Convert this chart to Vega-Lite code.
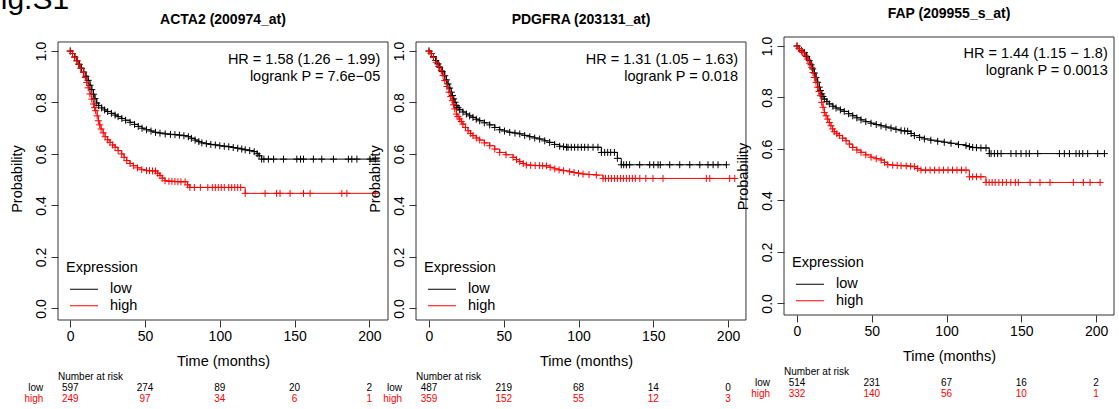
{
"$schema": "https://vega.github.io/schema/vega-lite/v6.json",
"padding": {"left": -18, "top": -15, "right": 5, "bottom": 5},
"background": "white",
"title": {"text": "Fig.S1", "anchor": "start", "frame": "bounds", "fontSize": 30, "fontWeight": "normal", "dx": -26.6, "offset": -32, "baseline": "alphabetic", "color": "black"},
"datasets": {
"ann": [
{"p":1,"hr":"HR = 1.58 (1.26 − 1.99)","lr":"logrank P = 7.6e−05"},
{"p":2,"hr":"HR = 1.31 (1.05 − 1.63)","lr":"logrank P = 0.018"},
{"p":3,"hr":"HR = 1.44 (1.15 − 1.8)","lr":"logrank P = 0.0013"}
],
"risk": [
{"p":1,"g":"low","t":0,"n":"597"},{"p":1,"g":"low","t":50,"n":"274"},{"p":1,"g":"low","t":100,"n":"89"},{"p":1,"g":"low","t":150,"n":"20"},{"p":1,"g":"low","t":200,"n":"2"},
{"p":1,"g":"high","t":0,"n":"249"},{"p":1,"g":"high","t":50,"n":"97"},{"p":1,"g":"high","t":100,"n":"34"},{"p":1,"g":"high","t":150,"n":"6"},{"p":1,"g":"high","t":200,"n":"1"},
{"p":2,"g":"low","t":0,"n":"487"},{"p":2,"g":"low","t":50,"n":"219"},{"p":2,"g":"low","t":100,"n":"68"},{"p":2,"g":"low","t":150,"n":"14"},{"p":2,"g":"low","t":200,"n":"0"},
{"p":2,"g":"high","t":0,"n":"359"},{"p":2,"g":"high","t":50,"n":"152"},{"p":2,"g":"high","t":100,"n":"55"},{"p":2,"g":"high","t":150,"n":"12"},{"p":2,"g":"high","t":200,"n":"3"},
{"p":3,"g":"low","t":0,"n":"514"},{"p":3,"g":"low","t":50,"n":"231"},{"p":3,"g":"low","t":100,"n":"67"},{"p":3,"g":"low","t":150,"n":"16"},{"p":3,"g":"low","t":200,"n":"2"},
{"p":3,"g":"high","t":0,"n":"332"},{"p":3,"g":"high","t":50,"n":"140"},{"p":3,"g":"high","t":100,"n":"56"},{"p":3,"g":"high","t":150,"n":"10"},{"p":3,"g":"high","t":200,"n":"1"}
],
"k1": [
{"g":"low","t":0,"s":1},{"g":"low","t":1.5,"s":0.99},{"g":"low","t":3,"s":0.977},{"g":"low","t":4.5,"s":0.962},{"g":"low","t":6,"s":0.948},{"g":"low","t":7.5,"s":0.933},{"g":"low","t":9,"s":0.918},{"g":"low","t":10.5,"s":0.902},{"g":"low","t":12,"s":0.886},{"g":"low","t":13.2,"s":0.867},{"g":"low","t":14.4,"s":0.85},{"g":"low","t":15.5,"s":0.832},{"g":"low","t":16.5,"s":0.815},{"g":"low","t":17.7,"s":0.798},{"g":"low","t":19,"s":0.788},{"g":"low","t":21,"s":0.779},{"g":"low","t":23,"s":0.771},{"g":"low","t":25,"s":0.765},{"g":"low","t":27.5,"s":0.758},{"g":"low","t":30,"s":0.751},{"g":"low","t":32,"s":0.745},{"g":"low","t":34.5,"s":0.738},{"g":"low","t":37,"s":0.731},{"g":"low","t":40,"s":0.723},{"g":"low","t":43,"s":0.715},{"g":"low","t":45.5,"s":0.707},{"g":"low","t":48,"s":0.7},{"g":"low","t":51,"s":0.694},{"g":"low","t":54,"s":0.689},{"g":"low","t":57,"s":0.684},{"g":"low","t":60,"s":0.681},{"g":"low","t":63.5,"s":0.678},{"g":"low","t":67,"s":0.676},{"g":"low","t":70,"s":0.675},{"g":"low","t":73,"s":0.673},{"g":"low","t":76,"s":0.671},{"g":"low","t":79,"s":0.667},{"g":"low","t":81,"s":0.661},{"g":"low","t":83.5,"s":0.654},{"g":"low","t":86,"s":0.648},{"g":"low","t":88,"s":0.643},{"g":"low","t":91,"s":0.64},{"g":"low","t":94,"s":0.637},{"g":"low","t":97,"s":0.635},{"g":"low","t":100,"s":0.632},{"g":"low","t":103,"s":0.63},{"g":"low","t":106,"s":0.628},{"g":"low","t":109,"s":0.625},{"g":"low","t":112,"s":0.622},{"g":"low","t":114.7,"s":0.619},{"g":"low","t":117,"s":0.616},{"g":"low","t":120,"s":0.613},{"g":"low","t":123,"s":0.609},{"g":"low","t":125,"s":0.601},{"g":"low","t":126.3,"s":0.593},{"g":"low","t":128,"s":0.58},{"g":"low","t":129.5,"s":0.58},{"g":"low","t":132.5,"s":0.58},{"g":"low","t":136,"s":0.58},{"g":"low","t":142.6,"s":0.58},{"g":"low","t":151.5,"s":0.58},{"g":"low","t":154,"s":0.58},{"g":"low","t":156,"s":0.58},{"g":"low","t":162.6,"s":0.58},{"g":"low","t":168.2,"s":0.58},{"g":"low","t":176,"s":0.58},{"g":"low","t":186,"s":0.58},{"g":"low","t":188.3,"s":0.58},{"g":"low","t":191.7,"s":0.58},{"g":"low","t":200.5,"s":0.58},{"g":"low","t":204,"s":0.58},
{"g":"high","t":0,"s":1},{"g":"high","t":1.5,"s":0.99},{"g":"high","t":3,"s":0.975},{"g":"high","t":4.5,"s":0.962},{"g":"high","t":5.5,"s":0.949},{"g":"high","t":7,"s":0.933},{"g":"high","t":8.8,"s":0.917},{"g":"high","t":10,"s":0.897},{"g":"high","t":11,"s":0.878},{"g":"high","t":12,"s":0.857},{"g":"high","t":13.2,"s":0.833},{"g":"high","t":14.4,"s":0.813},{"g":"high","t":15.5,"s":0.794},{"g":"high","t":16.3,"s":0.78},{"g":"high","t":17,"s":0.768},{"g":"high","t":18,"s":0.748},{"g":"high","t":18.8,"s":0.729},{"g":"high","t":19.7,"s":0.713},{"g":"high","t":20.6,"s":0.697},{"g":"high","t":22,"s":0.682},{"g":"high","t":23.3,"s":0.667},{"g":"high","t":25,"s":0.655},{"g":"high","t":26.6,"s":0.645},{"g":"high","t":28.3,"s":0.635},{"g":"high","t":30,"s":0.626},{"g":"high","t":32,"s":0.613},{"g":"high","t":34.4,"s":0.6},{"g":"high","t":36,"s":0.587},{"g":"high","t":37.8,"s":0.574},{"g":"high","t":40,"s":0.563},{"g":"high","t":42.2,"s":0.554},{"g":"high","t":45,"s":0.546},{"g":"high","t":47.8,"s":0.539},{"g":"high","t":51,"s":0.535},{"g":"high","t":53,"s":0.535},{"g":"high","t":55,"s":0.534},{"g":"high","t":57,"s":0.534},{"g":"high","t":58.5,"s":0.525},{"g":"high","t":60,"s":0.516},{"g":"high","t":61.5,"s":0.506},{"g":"high","t":63.4,"s":0.496},{"g":"high","t":66,"s":0.494},{"g":"high","t":68,"s":0.494},{"g":"high","t":70,"s":0.493},{"g":"high","t":72,"s":0.492},{"g":"high","t":74,"s":0.492},{"g":"high","t":76.8,"s":0.492},{"g":"high","t":78.5,"s":0.48},{"g":"high","t":80,"s":0.47},{"g":"high","t":83,"s":0.47},{"g":"high","t":87,"s":0.47},{"g":"high","t":92,"s":0.47},{"g":"high","t":95,"s":0.47},{"g":"high","t":97,"s":0.47},{"g":"high","t":99,"s":0.47},{"g":"high","t":101,"s":0.47},{"g":"high","t":103,"s":0.47},{"g":"high","t":106,"s":0.47},{"g":"high","t":108,"s":0.47},{"g":"high","t":110,"s":0.47},{"g":"high","t":112,"s":0.47},{"g":"high","t":114,"s":0.47},{"g":"high","t":117,"s":0.447},{"g":"high","t":130.3,"s":0.447},{"g":"high","t":138,"s":0.447},{"g":"high","t":140.3,"s":0.447},{"g":"high","t":147,"s":0.447},{"g":"high","t":156,"s":0.447},{"g":"high","t":160.4,"s":0.447},{"g":"high","t":181.6,"s":0.447},{"g":"high","t":185,"s":0.447},{"g":"high","t":203.9,"s":0.447}
],
"k2": [
{"g":"low","t":0,"s":1},{"g":"low","t":1.5,"s":0.99},{"g":"low","t":3,"s":0.978},{"g":"low","t":4.5,"s":0.963},{"g":"low","t":6,"s":0.95},{"g":"low","t":7.2,"s":0.937},{"g":"low","t":8.8,"s":0.92},{"g":"low","t":10.5,"s":0.904},{"g":"low","t":11.6,"s":0.888},{"g":"low","t":12.7,"s":0.872},{"g":"low","t":13.8,"s":0.856},{"g":"low","t":14.9,"s":0.84},{"g":"low","t":15.7,"s":0.827},{"g":"low","t":16.5,"s":0.814},{"g":"low","t":17.4,"s":0.801},{"g":"low","t":18.3,"s":0.788},{"g":"low","t":19.4,"s":0.78},{"g":"low","t":20.5,"s":0.772},{"g":"low","t":22.7,"s":0.763},{"g":"low","t":25,"s":0.755},{"g":"low","t":27.2,"s":0.748},{"g":"low","t":29.4,"s":0.742},{"g":"low","t":31.6,"s":0.735},{"g":"low","t":33.9,"s":0.729},{"g":"low","t":37,"s":0.721},{"g":"low","t":40.6,"s":0.713},{"g":"low","t":44,"s":0.703},{"g":"low","t":47.3,"s":0.694},{"g":"low","t":50.5,"s":0.689},{"g":"low","t":54,"s":0.684},{"g":"low","t":57.5,"s":0.681},{"g":"low","t":60.7,"s":0.678},{"g":"low","t":64,"s":0.672},{"g":"low","t":67.4,"s":0.667},{"g":"low","t":70.7,"s":0.662},{"g":"low","t":74,"s":0.658},{"g":"low","t":77.4,"s":0.651},{"g":"low","t":80.7,"s":0.645},{"g":"low","t":84,"s":0.637},{"g":"low","t":87.4,"s":0.63},{"g":"low","t":90,"s":0.628},{"g":"low","t":92,"s":0.626},{"g":"low","t":93,"s":0.626},{"g":"low","t":95.2,"s":0.626},{"g":"low","t":97.4,"s":0.626},{"g":"low","t":99.6,"s":0.626},{"g":"low","t":101.9,"s":0.626},{"g":"low","t":104.1,"s":0.626},{"g":"low","t":106.4,"s":0.626},{"g":"low","t":109.7,"s":0.626},{"g":"low","t":113,"s":0.626},{"g":"low","t":115.3,"s":0.606},{"g":"low","t":117.5,"s":0.606},{"g":"low","t":119.5,"s":0.606},{"g":"low","t":121.5,"s":0.606},{"g":"low","t":124,"s":0.606},{"g":"low","t":126,"s":0.583},{"g":"low","t":128.6,"s":0.558},{"g":"low","t":130.2,"s":0.558},{"g":"low","t":132,"s":0.558},{"g":"low","t":134.2,"s":0.558},{"g":"low","t":140.9,"s":0.558},{"g":"low","t":147.6,"s":0.558},{"g":"low","t":150.3,"s":0.558},{"g":"low","t":153.2,"s":0.558},{"g":"low","t":154.7,"s":0.558},{"g":"low","t":161,"s":0.558},{"g":"low","t":167.7,"s":0.558},{"g":"low","t":174.4,"s":0.558},{"g":"low","t":181.1,"s":0.558},{"g":"low","t":186.6,"s":0.558},{"g":"low","t":190,"s":0.558},{"g":"low","t":193.3,"s":0.558},{"g":"low","t":198.9,"s":0.558},
{"g":"high","t":0,"s":1},{"g":"high","t":1.5,"s":0.99},{"g":"high","t":3,"s":0.975},{"g":"high","t":4.9,"s":0.956},{"g":"high","t":6.5,"s":0.94},{"g":"high","t":8.2,"s":0.924},{"g":"high","t":9.4,"s":0.905},{"g":"high","t":10.5,"s":0.885},{"g":"high","t":12,"s":0.862},{"g":"high","t":13.4,"s":0.84},{"g":"high","t":14.5,"s":0.823},{"g":"high","t":15.6,"s":0.807},{"g":"high","t":16.4,"s":0.791},{"g":"high","t":17.2,"s":0.775},{"g":"high","t":18.3,"s":0.755},{"g":"high","t":19.4,"s":0.745},{"g":"high","t":20.5,"s":0.736},{"g":"high","t":21.6,"s":0.726},{"g":"high","t":22.7,"s":0.716},{"g":"high","t":24.4,"s":0.703},{"g":"high","t":26.1,"s":0.69},{"g":"high","t":27.8,"s":0.68},{"g":"high","t":29.4,"s":0.671},{"g":"high","t":31.6,"s":0.662},{"g":"high","t":33.9,"s":0.654},{"g":"high","t":37,"s":0.643},{"g":"high","t":40.6,"s":0.632},{"g":"high","t":44,"s":0.619},{"g":"high","t":47.3,"s":0.606},{"g":"high","t":51.5,"s":0.597},{"g":"high","t":56.2,"s":0.587},{"g":"high","t":58.5,"s":0.578},{"g":"high","t":60.7,"s":0.57},{"g":"high","t":63,"s":0.563},{"g":"high","t":65.1,"s":0.557},{"g":"high","t":68,"s":0.556},{"g":"high","t":71,"s":0.555},{"g":"high","t":74,"s":0.555},{"g":"high","t":76,"s":0.554},{"g":"high","t":78.5,"s":0.554},{"g":"high","t":81,"s":0.548},{"g":"high","t":84.1,"s":0.542},{"g":"high","t":87,"s":0.538},{"g":"high","t":90,"s":0.535},{"g":"high","t":94.1,"s":0.531},{"g":"high","t":97,"s":0.528},{"g":"high","t":100,"s":0.525},{"g":"high","t":103,"s":0.522},{"g":"high","t":107,"s":0.52},{"g":"high","t":111.9,"s":0.518},{"g":"high","t":116.4,"s":0.505},{"g":"high","t":118,"s":0.505},{"g":"high","t":120,"s":0.505},{"g":"high","t":122,"s":0.505},{"g":"high","t":124,"s":0.505},{"g":"high","t":126,"s":0.505},{"g":"high","t":128,"s":0.505},{"g":"high","t":130,"s":0.505},{"g":"high","t":132,"s":0.505},{"g":"high","t":134,"s":0.505},{"g":"high","t":136,"s":0.505},{"g":"high","t":138,"s":0.505},{"g":"high","t":141,"s":0.505},{"g":"high","t":145,"s":0.505},{"g":"high","t":149.8,"s":0.505},{"g":"high","t":156.5,"s":0.505},{"g":"high","t":185.5,"s":0.505},{"g":"high","t":187.8,"s":0.505},{"g":"high","t":201.1,"s":0.505},{"g":"high","t":204.5,"s":0.505}
],
"k3": [
{"g":"low","t":0,"s":1},{"g":"low","t":1.5,"s":0.99},{"g":"low","t":3,"s":0.983},{"g":"low","t":4.9,"s":0.975},{"g":"low","t":6.5,"s":0.959},{"g":"low","t":8.2,"s":0.943},{"g":"low","t":9.4,"s":0.927},{"g":"low","t":10.5,"s":0.911},{"g":"low","t":11.6,"s":0.895},{"g":"low","t":12.7,"s":0.878},{"g":"low","t":13.8,"s":0.859},{"g":"low","t":14.9,"s":0.84},{"g":"low","t":15.7,"s":0.827},{"g":"low","t":16.5,"s":0.814},{"g":"low","t":17.4,"s":0.804},{"g":"low","t":18.3,"s":0.794},{"g":"low","t":20,"s":0.784},{"g":"low","t":21.6,"s":0.775},{"g":"low","t":24,"s":0.766},{"g":"low","t":26.1,"s":0.759},{"g":"low","t":29,"s":0.752},{"g":"low","t":31.6,"s":0.746},{"g":"low","t":34.5,"s":0.737},{"g":"low","t":37.3,"s":0.729},{"g":"low","t":40,"s":0.721},{"g":"low","t":42.8,"s":0.713},{"g":"low","t":46,"s":0.706},{"g":"low","t":49.5,"s":0.7},{"g":"low","t":53,"s":0.695},{"g":"low","t":56.2,"s":0.69},{"g":"low","t":59.5,"s":0.685},{"g":"low","t":62.9,"s":0.681},{"g":"low","t":66.2,"s":0.676},{"g":"low","t":69.6,"s":0.671},{"g":"low","t":72,"s":0.67},{"g":"low","t":74,"s":0.669},{"g":"low","t":76.3,"s":0.66},{"g":"low","t":78.5,"s":0.652},{"g":"low","t":82,"s":0.645},{"g":"low","t":85.2,"s":0.639},{"g":"low","t":89.5,"s":0.634},{"g":"low","t":94.1,"s":0.63},{"g":"low","t":98.5,"s":0.626},{"g":"low","t":103,"s":0.622},{"g":"low","t":108,"s":0.617},{"g":"low","t":113,"s":0.613},{"g":"low","t":115.3,"s":0.609},{"g":"low","t":117.5,"s":0.606},{"g":"low","t":120,"s":0.605},{"g":"low","t":123,"s":0.604},{"g":"low","t":126.4,"s":0.604},{"g":"low","t":128.6,"s":0.582},{"g":"low","t":129.8,"s":0.582},{"g":"low","t":132,"s":0.582},{"g":"low","t":134.2,"s":0.582},{"g":"low","t":136.5,"s":0.582},{"g":"low","t":143.1,"s":0.582},{"g":"low","t":146.5,"s":0.582},{"g":"low","t":149.8,"s":0.582},{"g":"low","t":153.2,"s":0.582},{"g":"low","t":155.4,"s":0.582},{"g":"low","t":161,"s":0.582},{"g":"low","t":175.5,"s":0.582},{"g":"low","t":178.8,"s":0.582},{"g":"low","t":182.2,"s":0.582},{"g":"low","t":186.6,"s":0.582},{"g":"low","t":188.8,"s":0.582},{"g":"low","t":191.1,"s":0.582},{"g":"low","t":194.4,"s":0.582},{"g":"low","t":201.1,"s":0.582},{"g":"low","t":205.6,"s":0.582},
{"g":"high","t":0,"s":1},{"g":"high","t":1.5,"s":0.99},{"g":"high","t":3,"s":0.98},{"g":"high","t":3.8,"s":0.975},{"g":"high","t":5.5,"s":0.962},{"g":"high","t":7.2,"s":0.949},{"g":"high","t":8.5,"s":0.933},{"g":"high","t":9.8,"s":0.917},{"g":"high","t":10.7,"s":0.897},{"g":"high","t":11.6,"s":0.878},{"g":"high","t":12.7,"s":0.859},{"g":"high","t":13.8,"s":0.84},{"g":"high","t":14.7,"s":0.823},{"g":"high","t":15.6,"s":0.807},{"g":"high","t":16.5,"s":0.781},{"g":"high","t":17.4,"s":0.762},{"g":"high","t":18.3,"s":0.742},{"g":"high","t":19.4,"s":0.729},{"g":"high","t":20.5,"s":0.716},{"g":"high","t":21.6,"s":0.703},{"g":"high","t":22.7,"s":0.69},{"g":"high","t":23.8,"s":0.678},{"g":"high","t":24.9,"s":0.667},{"g":"high","t":26.6,"s":0.659},{"g":"high","t":28.3,"s":0.652},{"g":"high","t":30.5,"s":0.642},{"g":"high","t":32.8,"s":0.632},{"g":"high","t":35,"s":0.619},{"g":"high","t":37.3,"s":0.606},{"g":"high","t":40,"s":0.596},{"g":"high","t":42.8,"s":0.587},{"g":"high","t":46,"s":0.577},{"g":"high","t":49.5,"s":0.568},{"g":"high","t":53,"s":0.562},{"g":"high","t":56.2,"s":0.557},{"g":"high","t":58.5,"s":0.548},{"g":"high","t":60.7,"s":0.539},{"g":"high","t":64,"s":0.537},{"g":"high","t":67,"s":0.536},{"g":"high","t":69.6,"s":0.535},{"g":"high","t":73,"s":0.534},{"g":"high","t":76,"s":0.533},{"g":"high","t":78.5,"s":0.531},{"g":"high","t":80.7,"s":0.524},{"g":"high","t":82.9,"s":0.518},{"g":"high","t":86,"s":0.518},{"g":"high","t":89,"s":0.518},{"g":"high","t":92,"s":0.518},{"g":"high","t":95,"s":0.518},{"g":"high","t":98,"s":0.518},{"g":"high","t":101,"s":0.518},{"g":"high","t":104,"s":0.518},{"g":"high","t":107,"s":0.518},{"g":"high","t":110,"s":0.518},{"g":"high","t":113,"s":0.518},{"g":"high","t":115.3,"s":0.492},{"g":"high","t":117.5,"s":0.492},{"g":"high","t":120,"s":0.492},{"g":"high","t":123,"s":0.492},{"g":"high","t":126.4,"s":0.47},{"g":"high","t":128.5,"s":0.47},{"g":"high","t":130.5,"s":0.47},{"g":"high","t":132.5,"s":0.47},{"g":"high","t":135,"s":0.47},{"g":"high","t":137.5,"s":0.47},{"g":"high","t":140,"s":0.47},{"g":"high","t":143,"s":0.47},{"g":"high","t":146,"s":0.47},{"g":"high","t":148,"s":0.47},{"g":"high","t":155.9,"s":0.47},{"g":"high","t":162.5,"s":0.47},{"g":"high","t":169.2,"s":0.47},{"g":"high","t":184.8,"s":0.47},{"g":"high","t":191.5,"s":0.47},{"g":"high","t":196,"s":0.47},{"g":"high","t":202.7,"s":0.47}
]
},
"bounds": "flush",
"spacing": 28,
"resolve": {"scale": {"x": "independent", "y": "independent", "color": "independent"}, "legend": {"color": "independent"}},
"hconcat": [
{
"width": 330, "height": 283,
"title": {"text": "ACTA2 (200974_at)", "fontSize": 14, "fontWeight": "bold", "anchor": "middle", "frame": "group", "offset": -1, "baseline": "alphabetic", "color": "black"},
"layer": [
{"data": {"name": "ann"}, "transform": [{"filter": "datum.p === 1"}], "mark": {"type": "rect", "filled": false, "stroke": "#333333", "strokeWidth": 1}, "encoding": {"x": {"datum": -8.2}, "x2": {"datum": 212.5}, "y": {"datum": -0.045}, "y2": {"datum": 1.035}}},
{"data": {"name": "k1"}, "mark": {"type": "line", "interpolate": "step-after", "strokeWidth": 1},
"encoding": {
"x": {"field": "t", "type": "quantitative", "scale": {"domain": [-8.2, 212.5], "nice": false, "zero": false}, "axis": {"title": "Time (months)", "values": [0, 50, 100, 150, 200]}},
"y": {"field": "s", "type": "quantitative", "scale": {"domain": [-0.045, 1.0544], "nice": false, "zero": false}, "axis": {"title": "Probability", "values": [0, 0.2, 0.4, 0.6, 0.8, 1], "format": ".1f"}},
"color": {"field": "g", "type": "nominal", "scale": {"domain": ["low", "high"], "range": ["#000000", "#ff0000"]}, "legend": {"title": "Expression", "symbolType": "M-4,0H4", "symbolSize": 49, "symbolStrokeWidth": 1}}
}},
{"data": {"name": "k1"}, "mark": {"type": "point", "shape": "M-1,0H1M0,-1V1", "filled": false, "size": 49, "strokeWidth": 1, "opacity": 1},
"encoding": {"x": {"field": "t", "type": "quantitative"}, "y": {"field": "s", "type": "quantitative"}, "color": {"field": "g", "type": "nominal", "legend": null}}},
{"data": {"name": "ann"}, "transform": [{"filter": "datum.p === 1"}], "mark": {"type": "text", "align": "right", "baseline": "middle", "fontSize": 14.5, "color": "black"}, "encoding": {"x": {"datum": 207.3}, "y": {"datum": 0.9645}, "text": {"field": "hr"}}},
{"data": {"name": "ann"}, "transform": [{"filter": "datum.p === 1"}], "mark": {"type": "text", "align": "right", "baseline": "middle", "fontSize": 14.5, "color": "black"}, "encoding": {"x": {"datum": 207.3}, "y": {"datum": 0.8995}, "text": {"field": "lr"}}},
{"data": {"name": "ann"}, "transform": [{"filter": "datum.p === 1"}], "mark": {"type": "text", "align": "left", "baseline": "middle", "fontSize": 10, "color": "black", "text": "Number at risk"}, "encoding": {"x": {"datum": -8.2}, "y": {"datum": -0.265}}},
{"data": {"name": "ann"}, "transform": [{"filter": "datum.p === 1"}], "mark": {"type": "text", "align": "right", "baseline": "middle", "fontSize": 10, "color": "black", "text": "low"}, "encoding": {"x": {"datum": -18}, "y": {"datum": -0.31}}},
{"data": {"name": "ann"}, "transform": [{"filter": "datum.p === 1"}], "mark": {"type": "text", "align": "right", "baseline": "middle", "fontSize": 10, "color": "#ff0000", "text": "high"}, "encoding": {"x": {"datum": -18}, "y": {"datum": -0.352}}},
{"data": {"name": "risk"}, "transform": [{"filter": "datum.p === 1 && datum.g === 'low'"}], "mark": {"type": "text", "align": "center", "baseline": "middle", "fontSize": 10, "color": "black"}, "encoding": {"x": {"field": "t", "type": "quantitative"}, "y": {"datum": -0.31}, "text": {"field": "n", "type": "nominal"}}},
{"data": {"name": "risk"}, "transform": [{"filter": "datum.p === 1 && datum.g === 'high'"}], "mark": {"type": "text", "align": "center", "baseline": "middle", "fontSize": 10, "color": "#ff0000"}, "encoding": {"x": {"field": "t", "type": "quantitative"}, "y": {"datum": -0.352}, "text": {"field": "n", "type": "nominal"}}}
]
},
{
"width": 340, "height": 283,
"title": {"text": "PDGFRA (203131_at)", "fontSize": 14, "fontWeight": "bold", "anchor": "middle", "frame": "group", "offset": -1, "dx": -5, "baseline": "alphabetic", "color": "black"},
"layer": [
{"data": {"name": "ann"}, "transform": [{"filter": "datum.p === 2"}], "mark": {"type": "rect", "filled": false, "stroke": "#333333", "strokeWidth": 1}, "encoding": {"x": {"datum": -8.7}, "x2": {"datum": 212.0}, "y": {"datum": -0.045}, "y2": {"datum": 1.035}}},
{"data": {"name": "k2"}, "mark": {"type": "line", "interpolate": "step-after", "strokeWidth": 1},
"encoding": {
"x": {"field": "t", "type": "quantitative", "scale": {"domain": [-8.7, 218.7], "nice": false, "zero": false}, "axis": {"title": "Time (months)", "values": [0, 50, 100, 150, 200]}},
"y": {"field": "s", "type": "quantitative", "scale": {"domain": [-0.045, 1.0544], "nice": false, "zero": false}, "axis": {"title": "Probability", "values": [0, 0.2, 0.4, 0.6, 0.8, 1], "format": ".1f"}},
"color": {"field": "g", "type": "nominal", "scale": {"domain": ["low", "high"], "range": ["#000000", "#ff0000"]}, "legend": {"title": "Expression", "symbolType": "M-4,0H4", "symbolSize": 49, "symbolStrokeWidth": 1}}
}},
{"data": {"name": "k2"}, "mark": {"type": "point", "shape": "M-1,0H1M0,-1V1", "filled": false, "size": 49, "strokeWidth": 1, "opacity": 1},
"encoding": {"x": {"field": "t", "type": "quantitative"}, "y": {"field": "s", "type": "quantitative"}, "color": {"field": "g", "type": "nominal", "legend": null}}},
{"data": {"name": "ann"}, "transform": [{"filter": "datum.p === 2"}], "mark": {"type": "text", "align": "right", "baseline": "middle", "fontSize": 14.5, "color": "black"}, "encoding": {"x": {"datum": 206.7}, "y": {"datum": 0.9645}, "text": {"field": "hr"}}},
{"data": {"name": "ann"}, "transform": [{"filter": "datum.p === 2"}], "mark": {"type": "text", "align": "right", "baseline": "middle", "fontSize": 14.5, "color": "black"}, "encoding": {"x": {"datum": 206.7}, "y": {"datum": 0.8995}, "text": {"field": "lr"}}},
{"data": {"name": "ann"}, "transform": [{"filter": "datum.p === 2"}], "mark": {"type": "text", "align": "left", "baseline": "middle", "fontSize": 10, "color": "black", "text": "Number at risk"}, "encoding": {"x": {"datum": -8.7}, "y": {"datum": -0.265}}},
{"data": {"name": "ann"}, "transform": [{"filter": "datum.p === 2"}], "mark": {"type": "text", "align": "right", "baseline": "middle", "fontSize": 10, "color": "black", "text": "low"}, "encoding": {"x": {"datum": -18}, "y": {"datum": -0.31}}},
{"data": {"name": "ann"}, "transform": [{"filter": "datum.p === 2"}], "mark": {"type": "text", "align": "right", "baseline": "middle", "fontSize": 10, "color": "#ff0000", "text": "high"}, "encoding": {"x": {"datum": -18}, "y": {"datum": -0.352}}},
{"data": {"name": "risk"}, "transform": [{"filter": "datum.p === 2 && datum.g === 'low'"}], "mark": {"type": "text", "align": "center", "baseline": "middle", "fontSize": 10, "color": "black"}, "encoding": {"x": {"field": "t", "type": "quantitative"}, "y": {"datum": -0.31}, "text": {"field": "n", "type": "nominal"}}},
{"data": {"name": "risk"}, "transform": [{"filter": "datum.p === 2 && datum.g === 'high'"}], "mark": {"type": "text", "align": "center", "baseline": "middle", "fontSize": 10, "color": "#ff0000"}, "encoding": {"x": {"field": "t", "type": "quantitative"}, "y": {"datum": -0.352}, "text": {"field": "n", "type": "nominal"}}}
]
},
{
"width": 330, "height": 278,
"title": {"text": "FAP (209955_s_at)", "fontSize": 14, "fontWeight": "bold", "anchor": "middle", "frame": "group", "offset": 4, "baseline": "alphabetic", "color": "black"},
"layer": [
{"data": {"name": "ann"}, "transform": [{"filter": "datum.p === 3"}], "mark": {"type": "rect", "filled": false, "stroke": "#333333", "strokeWidth": 1}, "encoding": {"x": {"datum": -8.7}, "x2": {"datum": 212.0}, "y": {"datum": -0.045}, "y2": {"datum": 1.035}}},
{"data": {"name": "k3"}, "mark": {"type": "line", "interpolate": "step-after", "strokeWidth": 1},
"encoding": {
"x": {"field": "t", "type": "quantitative", "scale": {"domain": [-8.7, 212.0], "nice": false, "zero": false}, "axis": {"title": "Time (months)", "values": [0, 50, 100, 150, 200]}},
"y": {"field": "s", "type": "quantitative", "scale": {"domain": [-0.045, 1.035], "nice": false, "zero": false}, "axis": {"title": "Probability", "values": [0, 0.2, 0.4, 0.6, 0.8, 1], "format": ".1f"}},
"color": {"field": "g", "type": "nominal", "scale": {"domain": ["low", "high"], "range": ["#000000", "#ff0000"]}, "legend": {"title": "Expression", "symbolType": "M-4,0H4", "symbolSize": 49, "symbolStrokeWidth": 1}}
}},
{"data": {"name": "k3"}, "mark": {"type": "point", "shape": "M-1,0H1M0,-1V1", "filled": false, "size": 49, "strokeWidth": 1, "opacity": 1},
"encoding": {"x": {"field": "t", "type": "quantitative"}, "y": {"field": "s", "type": "quantitative"}, "color": {"field": "g", "type": "nominal", "legend": null}}},
{"data": {"name": "ann"}, "transform": [{"filter": "datum.p === 3"}], "mark": {"type": "text", "align": "right", "baseline": "middle", "fontSize": 14.5, "color": "black"}, "encoding": {"x": {"datum": 207.8}, "y": {"datum": 0.968}, "text": {"field": "hr"}}},
{"data": {"name": "ann"}, "transform": [{"filter": "datum.p === 3"}], "mark": {"type": "text", "align": "right", "baseline": "middle", "fontSize": 14.5, "color": "black"}, "encoding": {"x": {"datum": 207.8}, "y": {"datum": 0.903}, "text": {"field": "lr"}}},
{"data": {"name": "ann"}, "transform": [{"filter": "datum.p === 3"}], "mark": {"type": "text", "align": "left", "baseline": "middle", "fontSize": 10, "color": "black", "text": "Number at risk"}, "encoding": {"x": {"datum": -8.7}, "y": {"datum": -0.265}}},
{"data": {"name": "ann"}, "transform": [{"filter": "datum.p === 3"}], "mark": {"type": "text", "align": "right", "baseline": "middle", "fontSize": 10, "color": "black", "text": "low"}, "encoding": {"x": {"datum": -18}, "y": {"datum": -0.31}}},
{"data": {"name": "ann"}, "transform": [{"filter": "datum.p === 3"}], "mark": {"type": "text", "align": "right", "baseline": "middle", "fontSize": 10, "color": "#ff0000", "text": "high"}, "encoding": {"x": {"datum": -18}, "y": {"datum": -0.352}}},
{"data": {"name": "risk"}, "transform": [{"filter": "datum.p === 3 && datum.g === 'low'"}], "mark": {"type": "text", "align": "center", "baseline": "middle", "fontSize": 10, "color": "black"}, "encoding": {"x": {"field": "t", "type": "quantitative"}, "y": {"datum": -0.31}, "text": {"field": "n", "type": "nominal"}}},
{"data": {"name": "risk"}, "transform": [{"filter": "datum.p === 3 && datum.g === 'high'"}], "mark": {"type": "text", "align": "center", "baseline": "middle", "fontSize": 10, "color": "#ff0000"}, "encoding": {"x": {"field": "t", "type": "quantitative"}, "y": {"datum": -0.352}, "text": {"field": "n", "type": "nominal"}}}
]
}
],
"config": {
"font": "Liberation Sans",
"view": {"stroke": null},
"axis": {"domain": false, "grid": false, "tickColor": "#333333", "tickSize": 7, "tickWidth": 1, "labelFontSize": 14, "labelColor": "black", "titleFontSize": 14.5, "titleFontWeight": "normal", "titleColor": "black", "labelFlush": false, "labelOverlap": false},
"axisX": {"labelPadding": 2, "titlePadding": 11},
"axisY": {"labelAngle": -90, "labelAlign": "center", "labelBaseline": "bottom", "labelPadding": 3, "titlePadding": 10},
"legend": {"orient": "bottom-left", "offset": 7.5, "padding": 0, "titleFontSize": 14.5, "titleFontWeight": "normal", "titleColor": "black", "titlePadding": 6.5, "labelFontSize": 14.5, "labelColor": "black", "symbolOffset": 10.75, "labelOffset": 18.75, "rowPadding": 1.5}
}
}
